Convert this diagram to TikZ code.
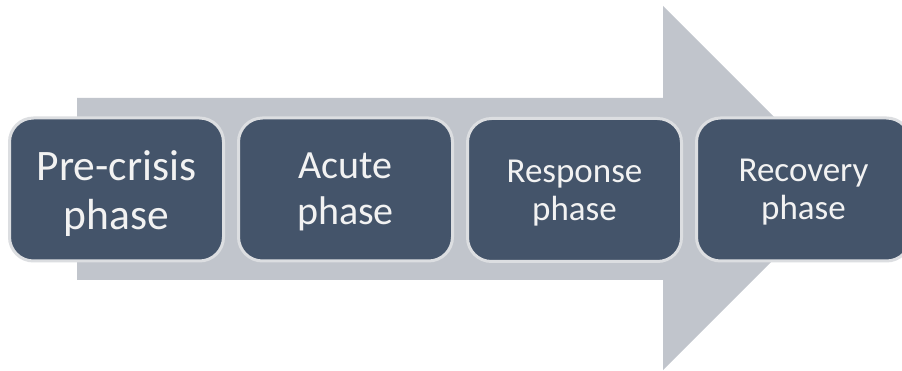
\documentclass[tikz,border=0pt]{standalone}
\usepackage{fontspec}
\setmainfont{Carlito}
\definecolor{arrowgray}{HTML}{C1C5CC}
\definecolor{slate}{HTML}{44546A}
\definecolor{rim}{HTML}{DCDEE1}
\definecolor{label}{HTML}{F2F2F2}
\tikzset{
  phasebox/.style={draw=rim, line width=3pt, fill=slate, rounded corners=24pt,
    minimum width=214pt, minimum height=143pt, inner sep=0pt, anchor=center},
  phasetext/.style={text=label, align=center, inner sep=0pt, anchor=center},
  bigtext/.style={phasetext, font=\fontsize{43.5}{49}\selectfont},
  midtext/.style={phasetext, font=\fontsize{40}{46}\selectfont},
  smalltext/.style={phasetext, font=\fontsize{35}{38}\selectfont}
}
\begin{document}
\begin{tikzpicture}[x=1pt,y=-1pt]
  \useasboundingbox (0,0) rectangle (902,371);
  \clip (0,0) rectangle (902,371);
  \fill[white] (0,0) rectangle (902,371);
  % broad process arrow behind the phases
  \fill[arrowgray] (77,98) -- (663,98) -- (663,6) -- (845,188)
    -- (663,370) -- (663,280) -- (77,280) -- cycle;
  % phase boxes
  \node[phasebox] (pre) at (116.5,189.5) {};
  \node[phasebox] (acute) at (345.5,189.5) {};
  \node[phasebox] (resp) at (574.5,190) {};
  \node[phasebox] (recov) at (803.5,189.5) {};
  % phase names
  \node[bigtext] (preT) at ([yshift=-4pt]pre.center) {Pre-crisis\\phase};
  \node[midtext] (acuteT) at ([yshift=-2pt]acute.center) {Acute\\phase};
  \node[smalltext] (respT) at ([yshift=-3pt]resp.center) {Response\\phase};
  \node[smalltext] (recovT) at ([yshift=-3pt]recov.center) {Recovery\\phase};
\end{tikzpicture}
\end{document}
